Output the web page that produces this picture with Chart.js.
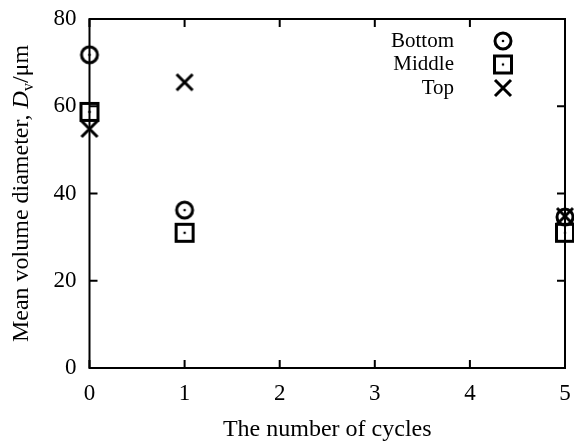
<!DOCTYPE html>
<html>
<head>
<meta charset="utf-8">
<script src="https://cdn.jsdelivr.net/npm/chart.js@4/dist/chart.umd.min.js"></script>
<style>
  html, body { margin: 0; padding: 0; background: #fff; }
  #wrap { width: 574px; height: 443px; }
</style>
</head>
<body>
<div id="wrap"><canvas id="chart" width="574" height="443"></canvas></div>
<script>
const cycles = [0, 1, 5];
const bottomVals = [71.8, 36.2, 34.6];
const middleVals = [58.7, 31.0, 31.0];
const topVals = [54.8, 65.5, 34.8];
const seriesNames = ['Bottom', 'Middle', 'Top'];
const xTicks = [0, 1, 2, 3, 4, 5];
const yTicks = [0, 20, 40, 60, 80];

const FONT = '"Liberation Serif", "DejaVu Serif", serif';

// marker images
function makeMarker(kind) {
    const c = document.createElement('canvas');
    c.width = 24; c.height = 24;
    const g = c.getContext('2d');
    g.strokeStyle = '#000';
    g.fillStyle = '#000';
    g.lineWidth = 3;
    if (kind === 'circle') {
        g.beginPath(); g.arc(12, 12, 8, 0, Math.PI * 2); g.stroke();
        g.beginPath(); g.arc(12, 12, 1.3, 0, Math.PI * 2); g.fill();
    } else if (kind === 'square') {
        g.strokeRect(3.5, 3.5, 17, 17);
        g.beginPath(); g.arc(12, 12, 1.3, 0, Math.PI * 2); g.fill();
    } else {
        g.beginPath();
        g.moveTo(4, 4); g.lineTo(20, 20);
        g.moveTo(20, 4); g.lineTo(4, 20);
        g.stroke();
    }
    return c;
}
const markers = [makeMarker('circle'), makeMarker('square'), makeMarker('cross')];

const frame = {
    id: 'frame',
    afterDraw(chart) {
        const ctx = chart.ctx;
        const a = chart.chartArea;
        const xs = chart.scales.x, ys = chart.scales.y;
        ctx.save();
        ctx.strokeStyle = '#000';
        ctx.lineWidth = 2;
        ctx.strokeRect(a.left, a.top, a.right - a.left, a.bottom - a.top);
        ctx.beginPath();
        const tl = 8;
        xTicks.forEach(v => {
            const px = xs.getPixelForValue(v);
            ctx.moveTo(px, a.bottom); ctx.lineTo(px, a.bottom - tl);
            ctx.moveTo(px, a.top); ctx.lineTo(px, a.top + tl);
        });
        yTicks.forEach(v => {
            const py = ys.getPixelForValue(v);
            ctx.moveTo(a.left, py); ctx.lineTo(a.left + tl, py);
            ctx.moveTo(a.right, py); ctx.lineTo(a.right - tl, py);
        });
        ctx.stroke();

        // x title
        ctx.fillStyle = '#000';
        ctx.font = '24px ' + FONT;
        ctx.textAlign = 'center';
        ctx.textBaseline = 'middle';
        ctx.fillText('The number of cycles', (a.left + a.right) / 2, 430);

        // y title with italic D and subscript v
        ctx.translate(20, (a.top + a.bottom) / 2);
        ctx.rotate(-Math.PI / 2);
        ctx.textAlign = 'left';
        ctx.textBaseline = 'alphabetic';
        const parts = [
            ['Mean volume diameter, ', '24px ' + FONT, 0],
            ['D', 'italic 24px ' + FONT, 0],
            ['v', '16px ' + FONT, 5],
            ['/μm', '24px ' + FONT, 0]
        ];
        let total = 0;
        parts.forEach(p => { ctx.font = p[1]; total += ctx.measureText(p[0]).width; });
        let x = -total / 2;
        parts.forEach(p => {
            ctx.font = p[1];
            ctx.fillText(p[0], x, 8 + p[2]);
            x += ctx.measureText(p[0]).width;
        });
        ctx.restore();

        // legend, text right-aligned left of the marker
        ctx.save();
        ctx.font = '21px ' + FONT;
        ctx.fillStyle = '#000';
        ctx.textAlign = 'right';
        ctx.textBaseline = 'middle';
        seriesNames.forEach((name, i) => {
            const y = 41 + i * 23.5;
            ctx.fillText(name, 454, y);
            ctx.drawImage(markers[i], 503 - 12, y - 12);
        });
        ctx.restore();
    }
};

function pts(vals) {
    return cycles.map((c, i) => ({ x: c, y: vals[i] }));
}

function noPad(s) {
    s.paddingLeft = 0; s.paddingRight = 0;
    s.paddingTop = 0; s.paddingBottom = 0;
}

const datasets = [bottomVals, middleVals, topVals].map((vals, i) => ({
    label: seriesNames[i],
    data: pts(vals),
    pointStyle: markers[i],
    pointRadius: 10,
    pointHoverRadius: 10,
    clip: false,
    showLine: false
}));

new Chart(document.getElementById('chart'), {
    type: 'scatter',
    data: { datasets: datasets },
    options: {
        responsive: false,
        animation: false,
        events: [],
        layout: { autoPadding: false, padding: { top: 19, right: 9, left: 0, bottom: 0 } },
        plugins: {
            legend: { display: false },
            tooltip: { enabled: false }
        },
        scales: {
            x: {
                type: 'linear',
                min: 0, max: 5,
                afterBuildTicks: s => { s.ticks = xTicks.map(v => ({ value: v })); },
                afterFit: s => { s.height = 75; noPad(s); },
                grid: { display: false, drawTicks: false },
                border: { display: false },
                ticks: { color: '#000', font: { family: FONT, size: 23 }, padding: 12, maxRotation: 0 }
            },
            y: {
                type: 'linear',
                min: 0, max: 80,
                afterBuildTicks: s => { s.ticks = yTicks.map(v => ({ value: v })); },
                afterFit: s => { s.width = 89.5; noPad(s); },
                grid: { display: false, drawTicks: false },
                border: { display: false },
                ticks: { color: '#000', font: { family: FONT, size: 23 }, padding: 13 }
            }
        }
    },
    plugins: [frame]
});
</script>
</body>
</html>
